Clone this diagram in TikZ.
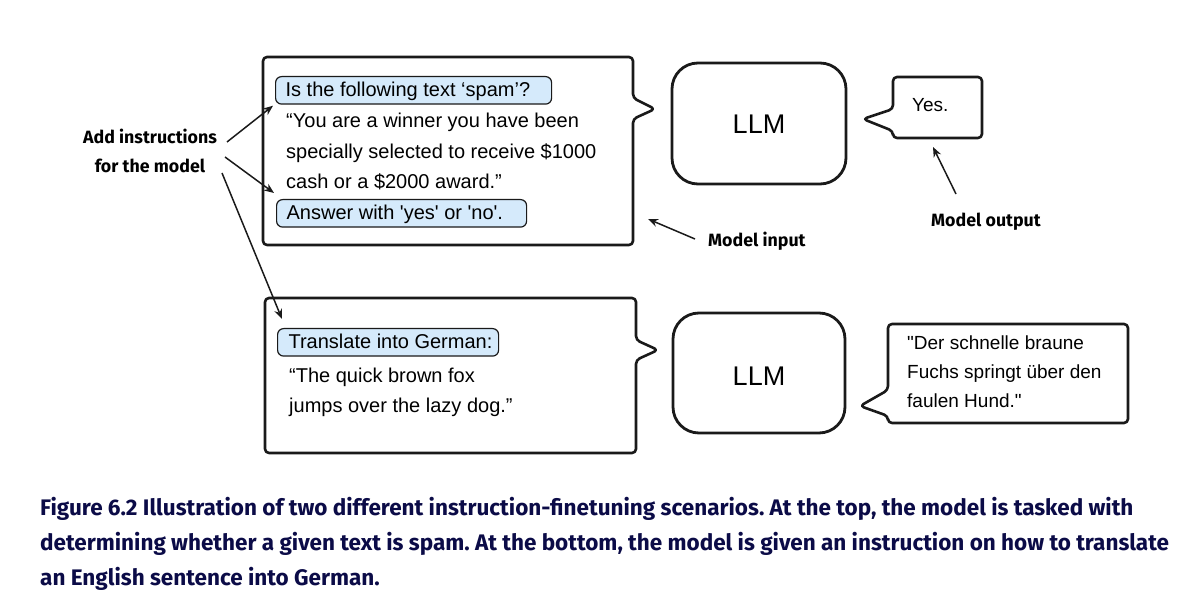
\documentclass[tikz,border=0pt]{standalone}
\usepackage{fontspec}
\usetikzlibrary{arrows.meta}
\newfontfamily\arial{Liberation Sans}
\newfontfamily\capfont{Fira Sans}
\definecolor{capblue}{HTML}{0B0B47}
\definecolor{qblue}{HTML}{D5EAFB}
\definecolor{edge}{HTML}{1A1A1A}
\frenchspacing
\begin{document}
\begin{tikzpicture}[x=1pt,y=-1pt,
  bubble/.style={draw=edge, line width=2.6pt, rounded corners=4pt, line join=round},
  llmbox/.style={draw=edge, line width=2.8pt, rounded corners=26pt},
  qbox/.style={draw=edge, fill=qblue, line width=1.2pt, rounded corners=6pt,
    font=\arial\fontsize{20}{24}\selectfont, text height=15pt, text depth=3.5pt,
    inner ysep=4.5pt, inner xsep=0pt, anchor=north west},
  body/.style={font=\arial\fontsize{20}{24}\selectfont, anchor=base west, inner sep=0pt},
  outtxt/.style={font=\arial\fontsize{19}{23}\selectfont, anchor=base west, inner sep=0pt},
  llmtxt/.style={font=\arial\fontsize{27}{30}\selectfont, inner sep=0pt},
  lbl/.style={font=\capfont\bfseries\fontsize{17.8}{29}\selectfont, inner sep=0pt, align=center},
  captxt/.style={font=\capfont\bfseries\fontsize{22.5}{26}\selectfont, text=capblue, anchor=base west, inner sep=0pt},
  arr/.style={draw=edge, line width=1.5pt, -{Stealth[length=10pt,width=8pt]}},
]
\useasboundingbox (0,0) rectangle (1187,612);

% ---------- top row ----------
\draw[bubble] (263,57) -- (633,57) -- (633,98) -- (655,109) -- (633,119) -- (633,245) -- (263,245) -- cycle;
\node[qbox] (q1) at (275,76) {\makebox[276pt][l]{\hspace{10pt}Is the following text ‘spam’?}};
\node[body] (t1) at (286,128) {“You are a winner you have been};
\node[body] (t2) at (286,159) {specially selected to receive \$1000};
\node[body] (t3) at (286,189) {cash or a \$2000 award.”};
\node[qbox] (q2) at (276,199) {\makebox[250pt][l]{\hspace{10pt}Answer with 'yes' or 'no'.}};

\draw[llmbox] (672,63) rectangle (846,184);
\node[llmtxt] (llm1) at (759,124) {LLM};

\draw[bubble] (893,77) -- (982,77) -- (982,138) -- (893,138) -- (893,131) -- (863,119) -- (893,109) -- cycle;
\node[outtxt] (yes) at (912,112) {Yes.};

% ---------- bottom row ----------
\draw[bubble] (265,298) -- (636,298) -- (636,340) -- (658,350) -- (636,360) -- (636,453) -- (265,453) -- cycle;
\node[qbox] (q3) at (277,328) {\makebox[221pt][l]{\hspace{11pt}Translate into German:}};
\node[body] (b1) at (289,383) {“The quick brown fox};
\node[body] (b2) at (289,413) {jumps over the lazy dog.”};

\draw[llmbox] (673,313) rectangle (845,433);
\node[llmtxt] (llm2) at (759,376) {LLM};

\draw[bubble] (888,324) -- (1128,324) -- (1128,423) -- (888,423) -- (888,416) -- (860,406) -- (888,390) -- cycle;
\node[outtxt] (o1) at (907,350) {"Der schnelle braune};
\node[outtxt] (o2) at (907,379) {Fuchs springt über den};
\node[outtxt] (o3) at (907,408) {faulen Hund."};

% ---------- labels ----------
\node[lbl] (add) at (150,151) {Add instructions\\for the model};
\node[lbl, anchor=west] (min) at (708,241) {Model input};
\node[lbl, anchor=west] (mout) at (931,222) {Model output};

\coordinate (a1s) at (227,142);
\coordinate (a2s) at (225,157);
\coordinate (a3s) at (222,173);
\draw[arr] (a1s) -- ([shift={(-2,1)}]q1.south west);
\draw[arr] (a2s) -- ([shift={(-2,-6)}]q2.north west);
\draw[arr] (a3s) -- ([shift={(5,-9)}]q3.north west);
\coordinate (mis) at (695,239);
\coordinate (mie) at (648,219);
\draw[arr] (mis) -- (mie);
\coordinate (mos) at (956,194);
\coordinate (moe) at (933,147);
\draw[arr] (mos) -- (moe);

% ---------- caption ----------
\node[captxt] (c1) at (40,515) {Figure 6.2 Illustration of two different instruction-finetuning scenarios. At the top, the model is tasked with};
\node[captxt] (c2) at (40,550) {determining whether a given text is spam. At the bottom, the model is given an instruction on how to translate};
\node[captxt] (c3) at (40,585) {an English sentence into German.};
\end{tikzpicture}
\end{document}
